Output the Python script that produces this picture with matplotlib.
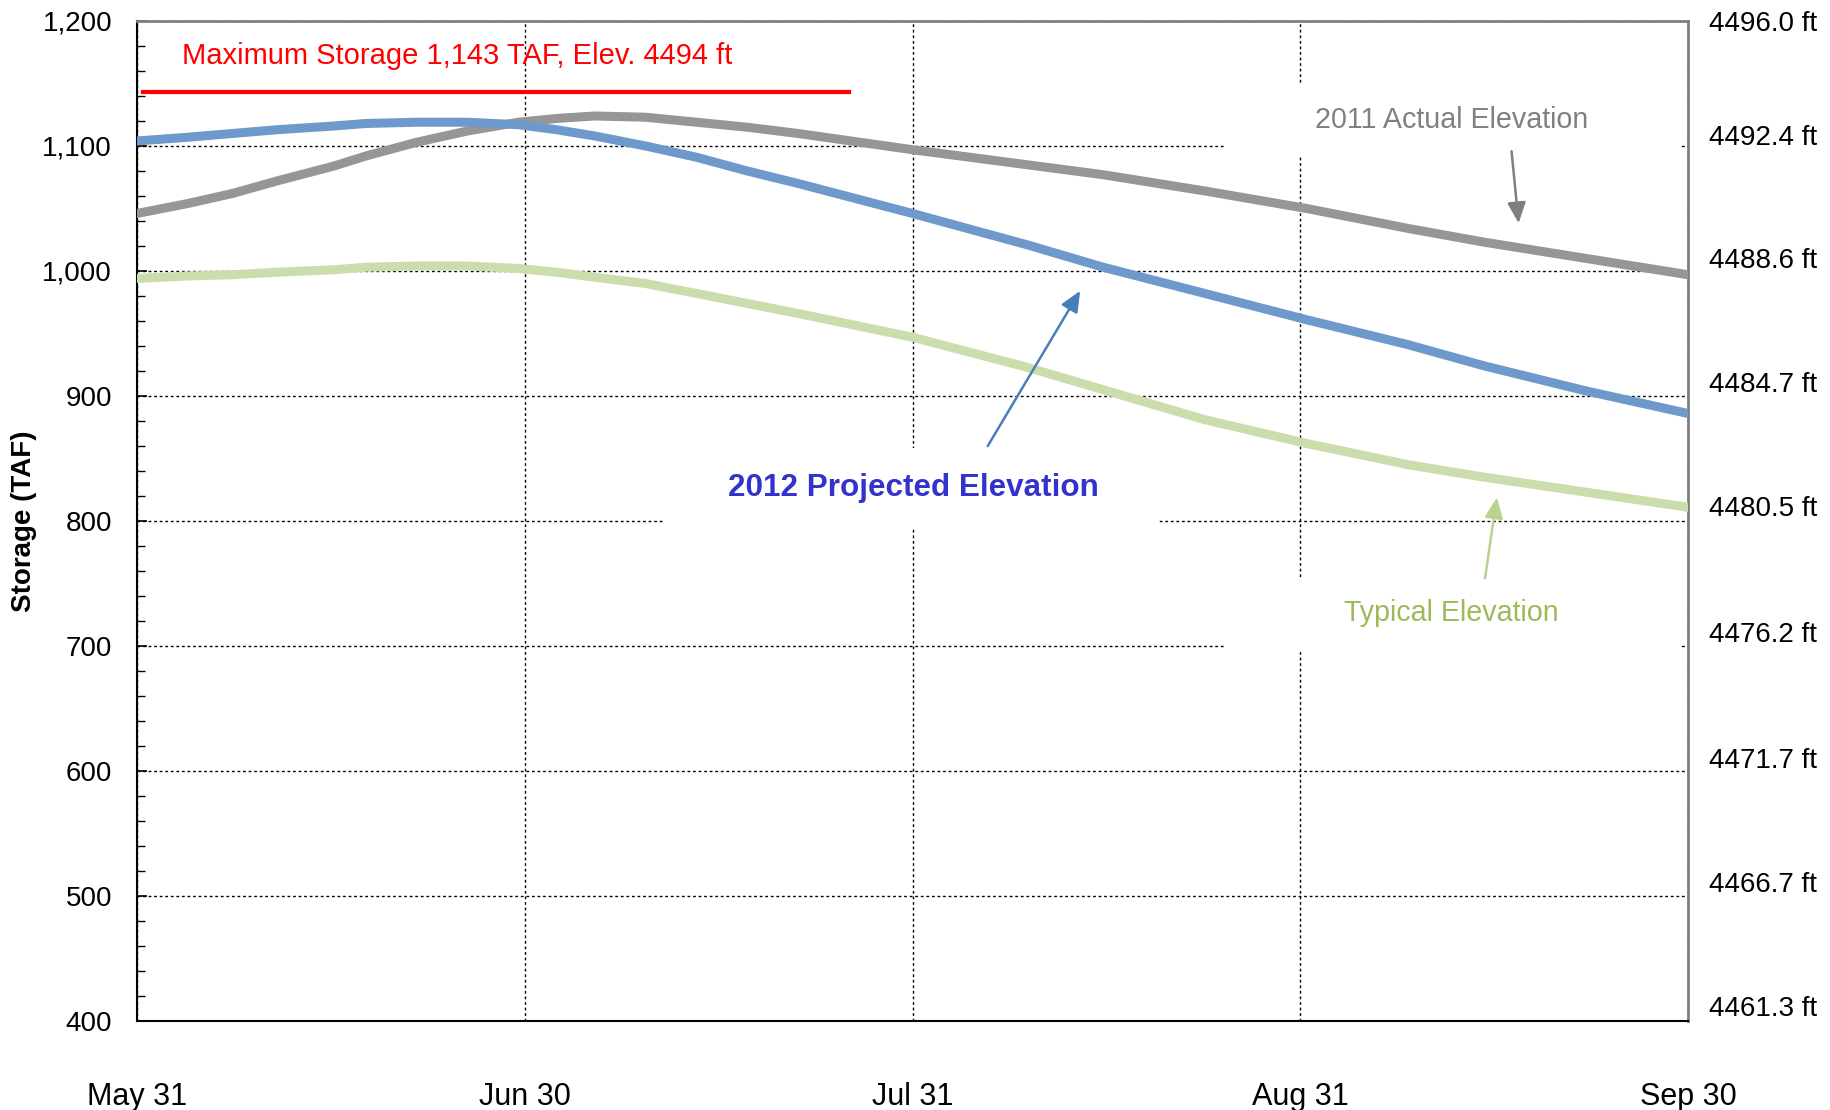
import matplotlib
matplotlib.use("Agg")
import matplotlib.pyplot as plt
from matplotlib.patches import Rectangle
from matplotlib.ticker import MultipleLocator

plt.rcParams['font.family'] = ['Liberation Sans', 'DejaVu Sans']

# days after May 31
days = [0, 4, 7.5, 11, 15.5, 18, 22, 26, 30, 33, 36, 40, 44, 48, 52, 61,
        70, 76, 84, 92, 100, 106, 114, 122]
proj_2012 = [1104, 1107, 1110, 1113, 1116, 1118, 1119, 1119, 1117, 1113, 1108,
             1100, 1091, 1080, 1070, 1046, 1021, 1003, 982, 961, 941, 924, 904, 886]
actual_2011 = [1046, 1054, 1062, 1072, 1084, 1092, 1103, 1112, 1119, 1122, 1124,
               1123, 1119, 1115, 1110, 1097, 1085, 1077, 1064, 1050, 1034, 1023, 1010, 997]
typical = [994, 996, 997, 999, 1001, 1003, 1004, 1004, 1002, 999, 995,
           990, 982, 974, 966, 947, 923, 905, 881, 862, 845, 835, 823, 811]

max_storage = 1143
max_days = [0.5, 56]

# the chart spaces its date ticks evenly over the four months
x_ticks = [0, 30.5, 61, 91.5, 122]
x_labels = ['May 31', 'Jun 30', 'Jul 31', 'Aug 31', 'Sep 30']
storage_ticks = [400, 500, 600, 700, 800, 900, 1000, 1100, 1200]
elev_labels = ['4461.3 ft', '4466.7 ft', '4471.7 ft', '4476.2 ft', '4480.5 ft',
               '4484.7 ft', '4488.6 ft', '4492.4 ft', '4496.0 ft']
# the elevation labels sit a little above the storage gridlines
elev_label_pos = [412, 511, 610, 711, 812, 911, 1010, 1109, 1200]

fig = plt.figure(figsize=(18.3, 11.1), dpi=100)
ax = fig.add_axes([0.0749, 0.0802, 0.8475, 0.9009])

ax.set_xlim(0, 122)
ax.set_ylim(400, 1200)
ax.set_axisbelow(True)
ax.grid(True, color='black', linestyle=(0, (2, 2)), linewidth=1.0)

# white label boxes that hide the grid
for (x0, y0, w, h) in [(0.7015, 0.865, 0.2933, 0.072),
                       (0.339, 0.493, 0.320, 0.080),
                       (0.7015, 0.371, 0.2933, 0.073)]:
    ax.add_patch(Rectangle((x0, y0), w, h, transform=ax.transAxes,
                           facecolor='white', edgecolor='none', zorder=1))

ax.plot(days, typical, color='#CCDDAD', lw=6.5, zorder=3)
ax.plot(days, actual_2011, color='#969696', lw=6.5, zorder=3)
ax.plot(days, proj_2012, color='#6E99CB', lw=6.5, zorder=4)
ax.plot(max_days, [max_storage, max_storage], color='#FF0000', lw=3, zorder=4)

ax.text(25.2, 1172, 'Maximum Storage 1,143 TAF, Elev. 4494 ft', color='#FF0000',
        fontsize=21, ha='center', va='center', zorder=5)

arrow_style = '-|>,head_length=0.9,head_width=0.4'
ax.annotate('', xy=(108.7, 1036), xytext=(108.1, 1098),
            arrowprops=dict(arrowstyle=arrow_style, color='#7F7F7F', lw=1.8,
                            mutation_scale=14), zorder=5)
ax.text(103.4, 1121, '2011 Actual Elevation', color='#808080', fontsize=20.6,
        ha='center', va='center', zorder=5)

ax.annotate('', xy=(74.3, 986), xytext=(66.8, 858),
            arrowprops=dict(arrowstyle=arrow_style, color='#4A7EBB', lw=1.8,
                            mutation_scale=14), zorder=5)
ax.text(61.1, 826, '2012 Projected Elevation', color='#3333CC', fontsize=22.6,
        fontweight='bold', ha='center', va='center', zorder=5)

ax.annotate('', xy=(107.0, 821), xytext=(106.0, 752),
            arrowprops=dict(arrowstyle=arrow_style, color='#B9D38F', lw=1.8,
                            mutation_scale=14), zorder=5)
ax.text(103.4, 726, 'Typical Elevation', color='#9BBB59', fontsize=20.6,
        ha='center', va='center', zorder=5)

ax.set_xticks(x_ticks)
ax.set_xticklabels(x_labels)
ax.tick_params(axis='x', length=0, pad=44, labelsize=22)
ax.set_yticks(storage_ticks)
ax.set_yticklabels([f'{v:,}' for v in storage_ticks])
ax.yaxis.set_minor_locator(MultipleLocator(20))
ax.tick_params(axis='y', which='major', direction='in', length=7, width=1.2,
               pad=18, labelsize=20)
ax.tick_params(axis='y', which='minor', direction='in', length=6, width=1.0)
ax.set_ylabel('Storage (TAF)', fontsize=20, fontweight='bold', labelpad=4)

for side in ['left', 'bottom']:
    ax.spines[side].set_color('black')
    ax.spines[side].set_linewidth(1.5)
for side in ['top', 'right']:
    ax.spines[side].set_color('#808080')
    ax.spines[side].set_linewidth(2)

ax2 = ax.twinx()
ax2.set_ylim(400, 1200)
ax2.set_yticks(elev_label_pos)
ax2.set_yticklabels(elev_labels)
ax2.tick_params(axis='y', length=0, pad=15, labelsize=20)
for side in ['top', 'right', 'left', 'bottom']:
    ax2.spines[side].set_visible(False)

fig.savefig('out.png', dpi=100, facecolor='white')
